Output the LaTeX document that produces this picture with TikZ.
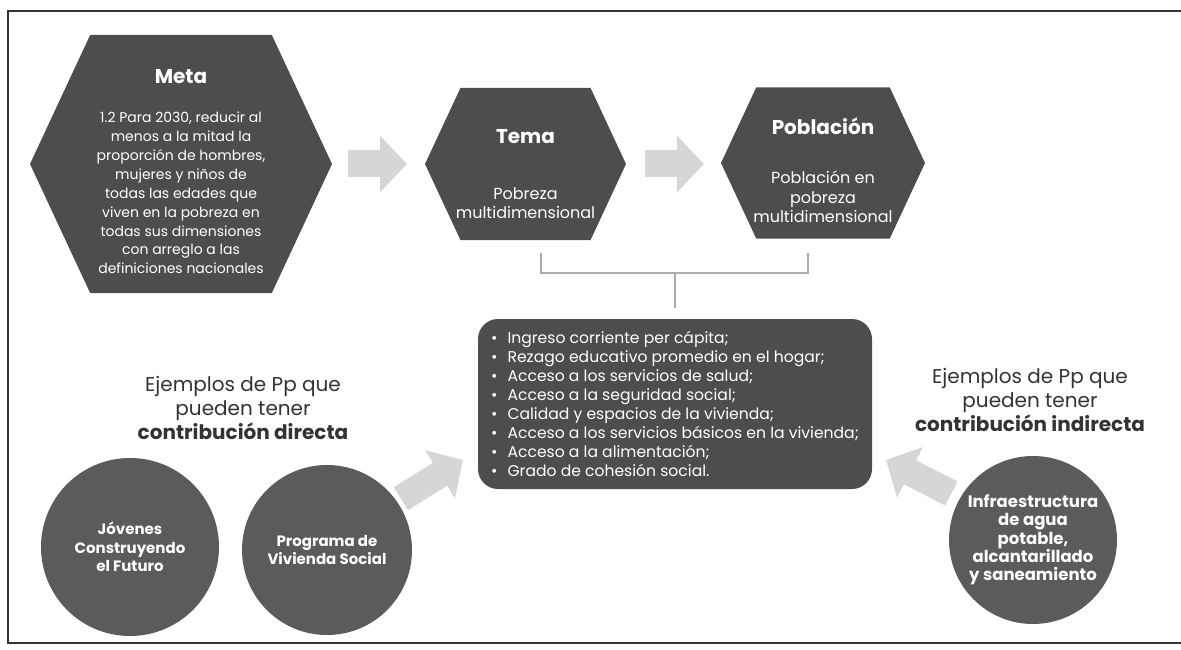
\documentclass[tikz,border=0pt]{standalone}
\usepackage{fontspec}
\setmainfont{Poppins}
\usetikzlibrary{shapes.symbols,arrows.meta}

\definecolor{hexgray}{HTML}{4C4E4C}
\definecolor{circgray}{HTML}{5B5B5B}
\definecolor{arrowgray}{HTML}{D6D6D6}
\definecolor{bracegray}{HTML}{ABABAB}
\definecolor{labelgray}{HTML}{333333}

\begin{document}
\begin{tikzpicture}[x=1pt,y=-1pt,
  hexa/.style={signal, signal to=west and east, signal pointer angle=130,
    fill=hexgray, inner sep=0pt, outer sep=0pt},
  hextitle/.style={text=white, font=\bfseries\fontsize{20}{24}\selectfont},
  hexbody/.style={text=white, align=center, font=\fontsize{14}{18.9}\selectfont},
  prog/.style={circle, fill=circgray, inner sep=0pt, outer sep=0pt, text=white,
    align=center, font=\bfseries\fontsize{15}{18.5}\selectfont},
  fatarrow/.style={arrowgray, line width=27pt, -{Triangle[width=55pt,length=27pt]}},
  ejemplos/.style={text=labelgray, align=center, font=\fontsize{20}{24}\selectfont}]

\useasboundingbox (0,0) rectangle (1181,650);
\draw[line width=1.3pt, black!80] (8,11) rectangle (1200,643);

% Meta
\node[hexa, minimum width=302pt, minimum height=258pt] (meta) at (181,164) {};
\node[hextitle] (metatitle) at (181,77) {Meta};
\node[hexbody] (metabody) at (181,193) {1.2 Para 2030, reducir al\\menos a la mitad la\\proporción de hombres,\\mujeres y niños de\\todas las edades que\\viven en la pobreza en\\todas sus dimensiones\\con arreglo a las\\definiciones nacionales};

% Tema
\node[hexa, minimum width=201pt, minimum height=152pt] (tema) at (525.5,164) {};
\node[hextitle] (tematitle) at (525.5,137) {Tema};
\node[hexbody, font=\fontsize{16}{18.5}\selectfont] (temabody) at (525.5,203) {Pobreza\\multidimensional};

% Poblacion
\node[hexa, minimum width=204pt, minimum height=151pt] (pob) at (823,163) {};
\node[hextitle] (pobtitle) at (823,126) {Población};
\node[hexbody, font=\fontsize{16}{19.5}\selectfont] (pobbody) at (823,197) {Población en\\pobreza\\multidimensional};

\draw[fatarrow, shorten <=16pt, shorten >=18pt] (meta.east) -- (meta.east -| tema.west);
\draw[fatarrow, shorten <=19pt, shorten >=17pt] (tema.east) -- (tema.east -| pob.west);

% dimensiones
\node[rectangle, rounded corners=20pt, fill=hexgray, minimum width=394pt, minimum height=170pt,
  align=left, text=white, font=\fontsize{15.6}{18.9}\selectfont] (dim) at (675,404) {%
  \textbullet\hspace{10pt}Ingreso corriente per cápita;\\
  \textbullet\hspace{10pt}Rezago educativo promedio en el hogar;\\
  \textbullet\hspace{10pt}Acceso a los servicios de salud;\\
  \textbullet\hspace{10pt}Acceso a la seguridad social;\\
  \textbullet\hspace{10pt}Calidad y espacios de la vivienda;\\
  \textbullet\hspace{10pt}Acceso a los servicios básicos en la vivienda;\\
  \textbullet\hspace{10pt}Acceso a la alimentación;\\
  \textbullet\hspace{10pt}Grado de cohesión social.};

% llave
\coordinate (brl) at (541,253);
\coordinate (brr) at (808,253);
\draw[bracegray, line width=1.8pt] (brl) -- ++(0,20) -| (brr);
\draw[bracegray, line width=1.8pt, shorten <=11pt] (dim.north) -- ++(0,-45);

% Contribucion directa
\node[ejemplos] (dirlabel) at (243,408) {Ejemplos de Pp que\\pueden tener\\\textbf{contribución directa}};
\node[prog, minimum size=178pt] (jovenes) at (130,547) {Jóvenes\\Construyendo\\el Futuro};
\node[prog, minimum size=170pt] (vivienda) at (327,550) {Programa de\\Vivienda Social};
\coordinate (dirtip) at (463,460);
\draw[fatarrow, shorten <=5pt] (vivienda.35) -- (dirtip);

% Contribucion indirecta
\node[ejemplos] (indlabel) at (1030,400) {Ejemplos de Pp que\\pueden tener\\\textbf{contribución indirecta}};
\node[prog, minimum size=168pt, font=\bfseries\fontsize{16.5}{18.3}\selectfont] (agua) at (1033,540) {Infraestructura\\de agua\\potable,\\alcantarillado\\y saneamiento};
\coordinate (indtip) at (886,460);
\draw[fatarrow, shorten <=10pt] (agua.150) -- (indtip);

\end{tikzpicture}
\end{document}
